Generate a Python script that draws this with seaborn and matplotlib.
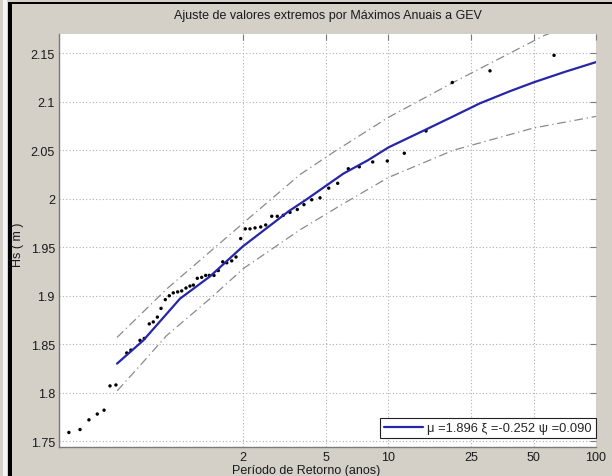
import matplotlib
matplotlib.use("Agg")
import matplotlib.pyplot as plt
from matplotlib.patches import Rectangle
import seaborn as sns
import pandas as pd

# ---- data ----
obs_T = [0.289, 0.327, 0.361, 0.396, 0.427, 0.456, 0.487, 0.549, 0.575, 0.636,
         0.667, 0.705, 0.737, 0.771, 0.803, 0.842, 0.880, 0.920, 0.966, 1.010,
         1.059, 1.107, 1.149, 1.201, 1.261, 1.318, 1.372, 1.445, 1.516, 1.592,
         1.664, 1.759, 1.845, 1.943, 2.045, 2.154, 2.278, 2.426, 2.565, 2.742,
         2.916, 3.117, 3.357, 3.641, 3.920, 4.272, 4.683, 5.158, 5.699, 6.411,
         7.240, 8.404, 9.878, 11.93, 15.18, 20.32, 30.86, 62.79]
obs_Hs = [1.759, 1.762, 1.772, 1.778, 1.782, 1.807, 1.808, 1.841, 1.844, 1.854,
          1.856, 1.871, 1.873, 1.878, 1.887, 1.896, 1.900, 1.903, 1.904, 1.905,
          1.908, 1.910, 1.911, 1.918, 1.919, 1.921, 1.921, 1.921, 1.926, 1.935,
          1.934, 1.936, 1.940, 1.959, 1.969, 1.969, 1.970, 1.971, 1.973, 1.982,
          1.982, 1.983, 1.986, 1.989, 1.994, 1.999, 2.001, 2.011, 2.016, 2.031,
          2.033, 2.038, 2.039, 2.047, 2.070, 2.120, 2.132, 2.148]

fit_T = [0.493, 0.660, 0.991, 1.383, 1.993, 2.79, 3.3, 4.04, 6.07, 8.0, 10.0,
         15.0, 20.5, 27.6, 38.5, 49.9, 70.9, 100.0]
fit_Hs = [1.830, 1.854, 1.897, 1.920, 1.951, 1.975, 1.987, 1.9995, 2.026, 2.040,
          2.053, 2.071, 2.085, 2.0985, 2.111, 2.120, 2.131, 2.141]

upper_T = [0.493, 0.855, 2.0, 3.75, 5.43, 10.0, 20.5, 55.7, 100.0]
upper_Hs = [1.857, 1.907, 1.975, 2.025, 2.048, 2.084, 2.120, 2.168, 2.190]

lower_T = [0.494, 0.624, 0.855, 1.383, 2.0, 3.75, 6.07, 10.0, 20.5, 49.9, 100.0]
lower_Hs = [1.802, 1.826, 1.859, 1.897, 1.928, 1.968, 1.995, 2.022, 2.050, 2.073, 2.085]

x_ticks = [2, 5, 10, 25, 50, 100]
x_tick_labels = ["2", "5", "10", "25", "50", "100"]
y_ticks = [1.75, 1.8, 1.85, 1.9, 1.95, 2.0, 2.05, 2.1, 2.15]
y_tick_labels = ["1.75", "1.8", "1.85", "1.9", "1.95", "2", "2.05", "2.1", "2.15"]

title = "Ajuste de valores extremos por Máximos Anuais a GEV"
xlabel = "Período de Retorno (anos)"
ylabel = "Hs ( m )"
legend_label = "μ =1.896 ξ =-0.252 ψ =0.090"

# ---- styling ----
sns.set_style("white")
plt.rcParams["font.family"] = ["Liberation Sans", "DejaVu Sans"]

BG = "#d4d0c8"
fig = plt.figure(figsize=(6.12, 4.77), dpi=100, facecolor=BG)
W, H = 612, 477
ax = fig.add_axes([59 / W, 1 - 448 / H, (596 - 59) / W, (448 - 35) / H])
ax.set_facecolor("white")
ax.set_xscale("log")

obs = pd.DataFrame({"T": obs_T, "Hs": obs_Hs})
fit = pd.DataFrame({"T": fit_T, "Hs": fit_Hs})
up = pd.DataFrame({"T": upper_T, "Hs": upper_Hs})
lo = pd.DataFrame({"T": lower_T, "Hs": lower_Hs})

dashdot = (0, (7, 3, 1, 3))
sns.lineplot(data=up, x="T", y="Hs", ax=ax, color="#8a8a8a", lw=0.9,
             linestyle=dashdot, legend=False)
sns.lineplot(data=lo, x="T", y="Hs", ax=ax, color="#8a8a8a", lw=0.9,
             linestyle=dashdot, legend=False)
sns.scatterplot(data=obs, x="T", y="Hs", ax=ax, color="black", s=6,
                marker="o", edgecolor="none", legend=False, zorder=3)
sns.lineplot(data=fit, x="T", y="Hs", ax=ax, color="#2626a6", lw=1.6,
             label=legend_label, zorder=4)

ax.set_xlim(0.259, 100)
ax.set_ylim(1.744, 2.170)
ax.set_xticks(x_ticks)
ax.set_xticklabels(x_tick_labels)
ax.minorticks_off()
ax.set_yticks(y_ticks)
ax.set_yticklabels(y_tick_labels)

ax.grid(True, which="major", color="#b0b0b0", linestyle=(0, (1, 2)), lw=0.8)
ax.tick_params(direction="in", length=4, width=0.8, color="#7a7a7a",
               labelsize=9, labelcolor="#1a1a1a", top=True, right=True,
               pad=3)
for s in ["left", "bottom"]:
    ax.spines[s].set_color("#7a7a7a")
    ax.spines[s].set_linewidth(1.0)
for s in ["top", "right"]:
    ax.spines[s].set_visible(False)

ax.set_title(title, fontsize=9, color="#1a1a1a", pad=11.5)
ax.set_xlabel(xlabel, fontsize=9, color="#1a1a1a")
ax.xaxis.set_label_coords((306 - 59) / (596 - 59), -(465 - 448) / 413)
ax.set_ylabel(ylabel, fontsize=9, color="#1a1a1a")
ax.yaxis.set_label_coords(-(59 - 24) / (596 - 59), (448 - 245) / 413)

leg = ax.legend(loc="lower right", bbox_to_anchor=(1.0, 9 / 413),
                borderaxespad=0.0, fancybox=False, framealpha=1,
                edgecolor="#222222", fontsize=9.3, handlelength=3.0,
                borderpad=0.3, handletextpad=0.35)
leg.get_frame().set_linewidth(0.8)

# window frame decoration (screenshot border)
fig.patches.append(Rectangle((8 / W, 0), 4 / W, 1 - 3 / H, transform=fig.transFigure,
                             facecolor="black", edgecolor="none"))
fig.patches.append(Rectangle((8 / W, 1 - 5 / H), 1 - 8 / W, 2 / H, transform=fig.transFigure,
                             facecolor="black", edgecolor="none"))
fig.patches.append(Rectangle((3 / W, 0), 4 / W, 1, transform=fig.transFigure,
                             facecolor="#f4f4f2", edgecolor="none"))

fig.savefig("out.png", dpi=100, facecolor=BG)
